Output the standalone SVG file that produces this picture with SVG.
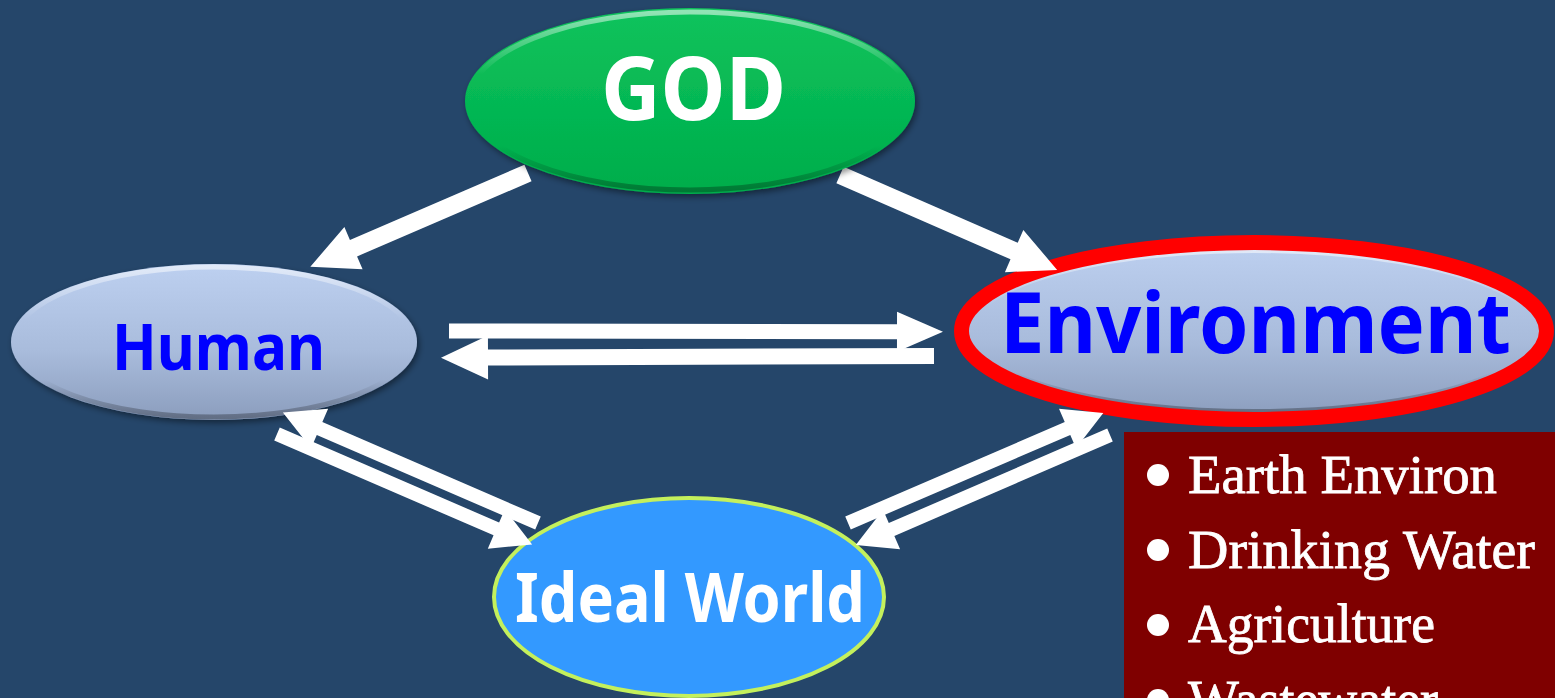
<svg xmlns="http://www.w3.org/2000/svg" width="1555" height="698" viewBox="0 0 1555 698">
<style>
.lbl{font-family:"Noto Sans","Open Sans","Liberation Sans",sans-serif;font-weight:bold;text-anchor:start}
.arrow{fill:#ffffff}
.item{font-family:"Liberation Serif","DejaVu Serif",serif;font-size:54px;fill:#ffffff;stroke:#ffffff;stroke-width:0.8}
</style>
<defs>
<linearGradient id="gGreen" x1="0" y1="0" x2="0" y2="1">
<stop offset="0" stop-color="#0cc35c"/>
<stop offset="1" stop-color="#00ad4b"/>
</linearGradient>
<linearGradient id="gBlue" x1="0" y1="0" x2="0" y2="1">
<stop offset="0" stop-color="#bdd0f0"/>
<stop offset="0.55" stop-color="#a9bcdc"/>
<stop offset="1" stop-color="#8b9dbd"/>
</linearGradient>
<linearGradient id="gRim" x1="0" y1="0" x2="0" y2="1">
<stop offset="0" stop-color="#ffffff" stop-opacity="0.55"/>
<stop offset="0.35" stop-color="#ffffff" stop-opacity="0"/>
<stop offset="0.75" stop-color="#000000" stop-opacity="0"/>
<stop offset="1" stop-color="#000000" stop-opacity="0.3"/>
</linearGradient>
<filter id="shadow" x="-10%" y="-20%" width="120%" height="140%">
<feDropShadow dx="2" dy="3" stdDeviation="3" flood-color="#000000" flood-opacity="0.45"/>
</filter>
</defs>
<rect x="0" y="0" width="1555" height="698" fill="#25466a"/>

<g id="node-human">
<ellipse cx="214" cy="342" rx="203" ry="78" fill="url(#gBlue)" filter="url(#shadow)"/>
<ellipse cx="214" cy="342" rx="200" ry="75" fill="none" stroke="url(#gRim)" stroke-width="5"/>
<text class="lbl" x="112" y="370" font-size="65" fill="#0000ff" textLength="213" lengthAdjust="spacingAndGlyphs">Human</text>
</g>

<g id="node-environment">
<ellipse cx="1254" cy="331" rx="292" ry="88" fill="url(#gBlue)"/>
<ellipse cx="1254" cy="331" rx="283" ry="80" fill="none" stroke="url(#gRim)" stroke-width="4"/>
<ellipse cx="1254" cy="331" rx="292.5" ry="88.5" fill="none" stroke="#ff0000" stroke-width="15"/>
<text class="lbl" x="1000" y="353" font-size="85" fill="#0000ff" textLength="511" lengthAdjust="spacingAndGlyphs">Environment</text>
</g>

<g id="node-ideal-world">
<ellipse cx="689" cy="597" rx="195" ry="99" fill="#3399ff" stroke="#c4f05c" stroke-width="4"/>
<text class="lbl" x="515" y="622" font-size="68" fill="#ffffff" textLength="350" lengthAdjust="spacingAndGlyphs">Ideal World</text>
</g>

<g id="connectors">
<path class="arrow" transform="translate(528,173) rotate(156.7)" d="M0,-9 L190,-9 L190,-23 L237,0 L190,23 L190,9 L0,9 Z"/>
<path class="arrow" transform="translate(840,175) rotate(23.6)" d="M0,-9 L190,-9 L190,-23 L237,0 L190,23 L190,9 L0,9 Z"/>
<path class="arrow" transform="translate(449,331) rotate(0.1)" d="M0,-7.5 L448,-7.5 L448,-20 L494,0 L448,20 L448,7.5 L0,7.5 Z"/>
<path class="arrow" transform="translate(934,356) rotate(179.8)" d="M0,-8 L446,-8 L446,-22 L493,0 L446,22 L446,8 L0,8 Z"/>
<path class="arrow" transform="translate(277,434) rotate(23.4)" d="M0,-7 L239,-7 L239,-21.5 L278,0 L239,21.5 L239,7 L0,7 Z"/>
<path class="arrow" transform="translate(538,523) rotate(203.4)" d="M0,-7 L238,-7 L238,-21.5 L278,0 L238,21.5 L238,7 L0,7 Z"/>
<path class="arrow" transform="translate(848,523) rotate(-23.3)" d="M0,-7 L239,-7 L239,-21.5 L278,0 L239,21.5 L239,7 L0,7 Z"/>
<path class="arrow" transform="translate(1110,435) rotate(156.6)" d="M0,-7 L238,-7 L238,-21.5 L277,0 L238,21.5 L238,7 L0,7 Z"/>
</g>

<g id="node-god">
<ellipse cx="690" cy="101" rx="225" ry="93" fill="url(#gGreen)" filter="url(#shadow)"/>
<ellipse cx="690" cy="101" rx="221" ry="89" fill="none" stroke="url(#gRim)" stroke-width="5"/>
<text class="lbl" x="601" y="120" font-size="87" fill="#ffffff" textLength="185" lengthAdjust="spacingAndGlyphs">GOD</text>
</g>

<g id="node-list">
<rect x="1124" y="432" width="431" height="266" fill="#7f0000"/>
<circle cx="1158" cy="475" r="11" fill="#ffffff"/>
<circle cx="1158" cy="550" r="11" fill="#ffffff"/>
<circle cx="1158" cy="625" r="11" fill="#ffffff"/>
<circle cx="1158" cy="700" r="11" fill="#ffffff"/>
<text class="item" x="1188" y="493" textLength="309" lengthAdjust="spacingAndGlyphs">Earth Environ</text>
<text class="item" x="1188" y="568" textLength="347" lengthAdjust="spacingAndGlyphs">Drinking Water</text>
<text class="item" x="1188" y="642" textLength="247" lengthAdjust="spacingAndGlyphs">Agriculture</text>
<text class="item" x="1188" y="718" textLength="250" lengthAdjust="spacingAndGlyphs">Wastewater</text>
</g>
</svg>
